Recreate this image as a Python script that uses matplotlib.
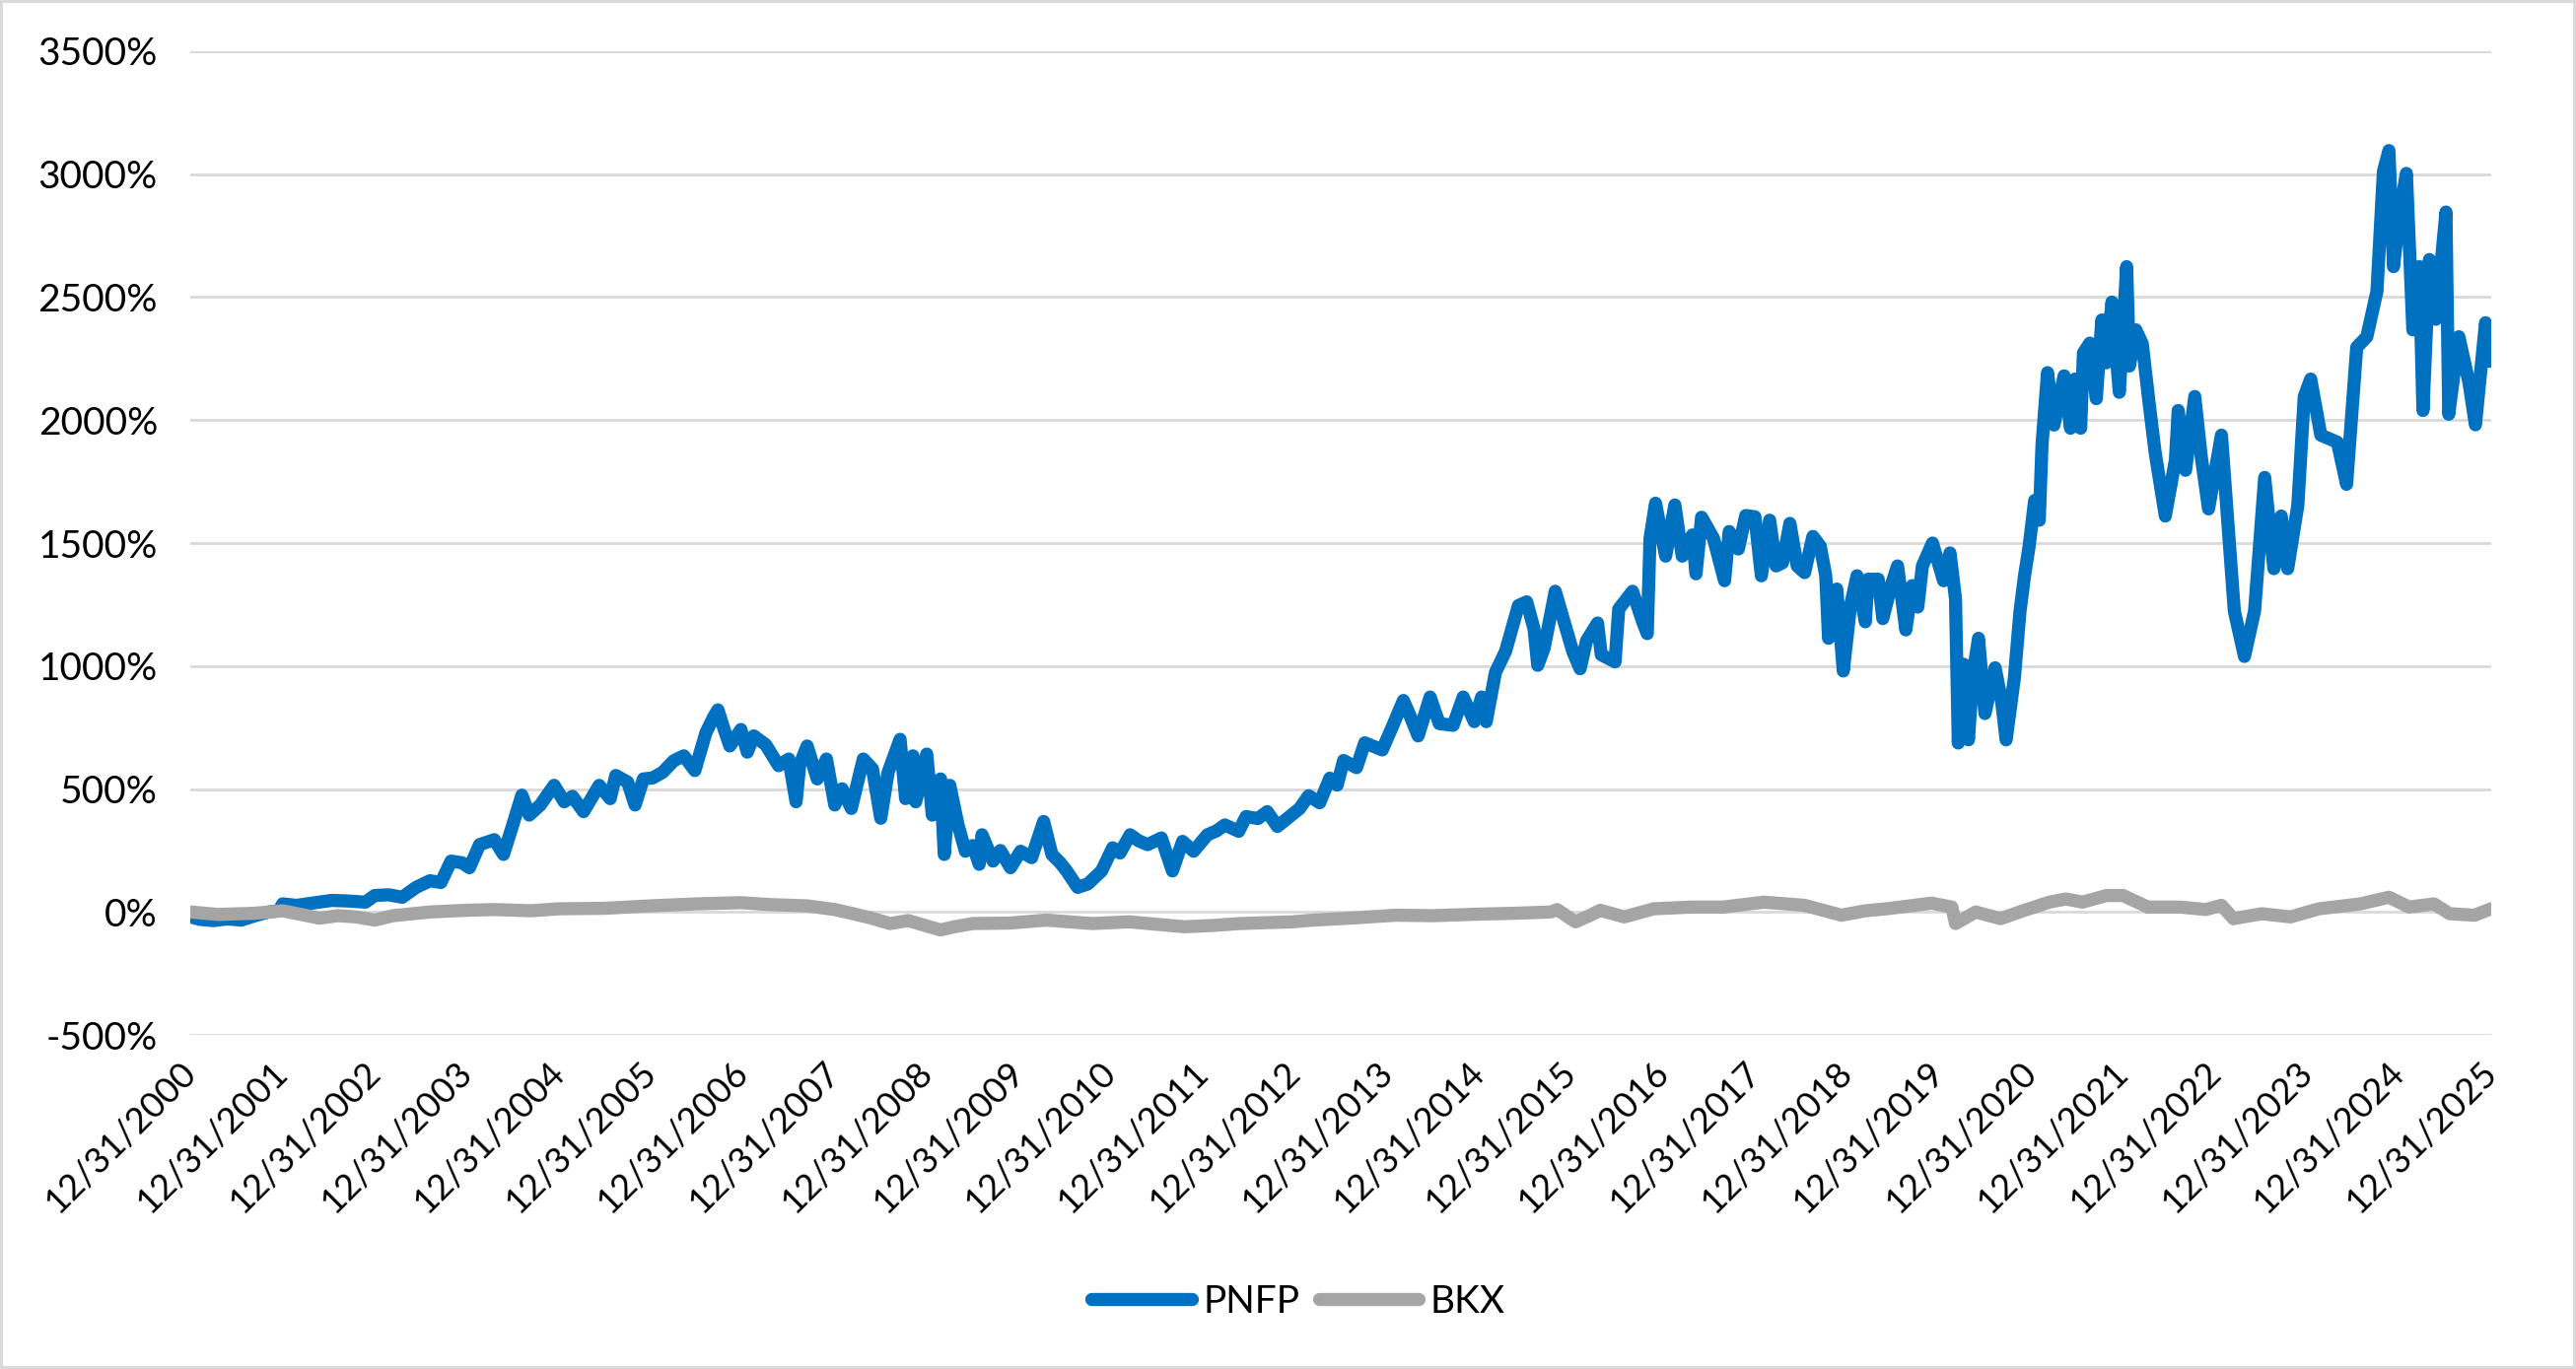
import numpy as np
import pandas as pd
import matplotlib
matplotlib.use('Agg')
import matplotlib.pyplot as plt
import matplotlib.dates as mdates
from matplotlib.ticker import FuncFormatter, MultipleLocator

plt.rcParams['font.family'] = ['Lato', 'DejaVu Sans']

# cumulative total return (%); time as decimal year
pnfp_t = [2001.0, 2001.1, 2001.25, 2001.4, 2001.55, 2001.7, 2001.85, 2001.96, 2002.0, 2002.15,
          2002.3, 2002.53, 2002.7, 2002.9, 2003.0, 2003.15, 2003.3, 2003.45, 2003.6, 2003.72,
          2003.83, 2003.95, 2004.03, 2004.14, 2004.3, 2004.4, 2004.49, 2004.6, 2004.68, 2004.8,
          2004.95, 2005.06, 2005.15, 2005.27, 2005.44, 2005.56, 2005.62, 2005.75, 2005.83, 2005.92,
          2006.02, 2006.13, 2006.25, 2006.36, 2006.48, 2006.6, 2006.68, 2006.73, 2006.8, 2006.86,
          2006.98, 2007.05, 2007.12, 2007.25, 2007.39, 2007.5, 2007.58, 2007.62, 2007.7, 2007.81,
          2007.91, 2008.0, 2008.08, 2008.18, 2008.31, 2008.41, 2008.5, 2008.58, 2008.71, 2008.77,
          2008.85, 2008.88, 2009.0, 2009.06, 2009.15, 2009.19, 2009.25, 2009.34, 2009.42, 2009.5,
          2009.57, 2009.6, 2009.72, 2009.8, 2009.91, 2010.02, 2010.14, 2010.27, 2010.36, 2010.45,
          2010.52, 2010.64, 2010.75, 2010.9, 2011.02, 2011.1, 2011.21, 2011.3, 2011.4, 2011.55,
          2011.67, 2011.78, 2011.9, 2012.05, 2012.15, 2012.24, 2012.39, 2012.47, 2012.6, 2012.7,
          2012.81, 2012.95, 2013.05, 2013.15, 2013.27, 2013.38, 2013.46, 2013.53, 2013.67, 2013.76,
          2013.95, 2014.05, 2014.18, 2014.25, 2014.34, 2014.47, 2014.57, 2014.72, 2014.83, 2014.95,
          2015.03, 2015.08, 2015.18, 2015.29, 2015.43, 2015.52, 2015.6, 2015.64, 2015.71, 2015.83,
          2015.92, 2016.02, 2016.1, 2016.17, 2016.29, 2016.33, 2016.48, 2016.52, 2016.67, 2016.78,
          2016.83, 2016.86, 2016.92, 2017.03, 2017.13, 2017.21, 2017.32, 2017.36, 2017.42, 2017.55,
          2017.67, 2017.72, 2017.82, 2017.9, 2018.0, 2018.07, 2018.16, 2018.23, 2018.3, 2018.38,
          2018.46, 2018.54, 2018.63, 2018.71, 2018.77, 2018.8, 2018.89, 2018.96, 2019.04, 2019.11,
          2019.2, 2019.23, 2019.34, 2019.39, 2019.48, 2019.55, 2019.64, 2019.71, 2019.77, 2019.82,
          2019.93, 2020.05, 2020.12, 2020.18, 2020.21, 2020.27, 2020.32, 2020.37, 2020.43, 2020.5,
          2020.61, 2020.68, 2020.73, 2020.82, 2020.88, 2020.93, 2020.98, 2021.04, 2021.09, 2021.12,
          2021.18, 2021.25, 2021.36, 2021.43, 2021.48, 2021.54, 2021.57, 2021.64, 2021.71, 2021.77,
          2021.82, 2021.88, 2021.96, 2022.04, 2022.07, 2022.14, 2022.21, 2022.28, 2022.35, 2022.46,
          2022.57, 2022.6, 2022.68, 2022.78, 2022.85, 2022.93, 2023.07, 2023.14, 2023.21, 2023.32,
          2023.43, 2023.54, 2023.64, 2023.72, 2023.79, 2023.9, 2023.97, 2024.04, 2024.15, 2024.33,
          2024.43, 2024.54, 2024.65, 2024.76, 2024.83, 2024.89, 2024.94, 2025.01, 2025.08, 2025.15,
          2025.22, 2025.26, 2025.33, 2025.4, 2025.51, 2025.54, 2025.65, 2025.76, 2025.83, 2025.94,
          2025.99]
pnfp = [-20, -30, -35, -28, -33, -15, 0, 5, 33, 27,
        35, 47, 45, 40, 67, 70, 60, 100, 127, 120,
        207, 200, 180, 274, 294, 234, 341, 475, 394, 435,
        515, 448, 470, 408, 515, 461, 555, 528, 435, 541,
        545, 568, 615, 635, 575, 729, 790, 822, 740, 675,
        742, 650, 716, 680, 595, 622, 448, 600, 675, 541,
        622, 435, 501, 421, 622, 582, 381, 568, 702, 461,
        635, 448, 642, 394, 541, 234, 515, 354, 247, 270,
        194, 314, 207, 250, 180, 247, 221, 368, 234, 200,
        167, 100, 114, 167, 261, 240, 314, 290, 274, 301,
        167, 287, 247, 314, 330, 354, 328, 388, 380, 408,
        348, 390, 420, 473, 444, 544, 516, 616, 587, 688,
        659, 745, 860, 800, 716, 874, 766, 759, 874, 774,
        874, 774, 974, 1060, 1246, 1261, 1150, 1003, 1074, 1304,
        1189, 1060, 989, 1103, 1175, 1046, 1017, 1232, 1304, 1180,
        1132, 1519, 1662, 1447, 1655, 1447, 1533, 1375, 1605, 1519,
        1347, 1547, 1476, 1612, 1607, 1367, 1593, 1407, 1420, 1580,
        1407, 1380, 1527, 1487, 1367, 1113, 1313, 980, 1247, 1367,
        1180, 1353, 1353, 1193, 1327, 1407, 1147, 1327, 1240, 1407,
        1500, 1347, 1460, 1273, 687, 1007, 700, 967, 1113, 807,
        993, 860, 700, 953, 1220, 1367, 1487, 1673, 1593, 1900,
        2193, 1980, 2180, 1967, 2167, 1967, 2273, 2313, 2087, 2407,
        2233, 2480, 2113, 2624, 2220, 2367, 2310, 2081, 1867, 1610,
        1839, 2039, 1796, 2096, 1853, 1639, 1939, 1581, 1224, 1039,
        1224, 1767, 1396, 1610, 1396, 1653, 2096, 2167, 1939, 1910,
        1739, 2296, 2339, 2524, 3010, 3096, 2624, 2853, 3003, 2367,
        2624, 2039, 2653, 2410, 2846, 2024, 2339, 2153, 1981, 2396,
        2239]

bkx_t = [2001.0, 2001.3, 2001.7, 2002.0, 2002.4, 2002.6, 2002.8, 2003.0, 2003.2, 2003.6,
         2004.0, 2004.3, 2004.7, 2005.0, 2005.5, 2006.0, 2006.5, 2006.98, 2007.3, 2007.7,
         2008.0, 2008.2, 2008.4, 2008.6, 2008.8, 2009.15, 2009.3, 2009.5, 2009.9, 2010.3,
         2010.8, 2011.2, 2011.5, 2011.8, 2012.1, 2012.4, 2012.97, 2013.2, 2013.6, 2014.1,
         2014.5, 2014.98, 2015.4, 2015.78, 2015.85, 2016.05, 2016.2, 2016.32, 2016.58, 2016.9,
         2017.3, 2017.65, 2018.1, 2018.54, 2018.94, 2019.2, 2019.43, 2019.92, 2020.14, 2020.18,
         2020.4, 2020.67, 2020.93, 2021.2, 2021.38, 2021.56, 2021.82, 2022.0, 2022.27, 2022.62,
         2022.9, 2023.07, 2023.2, 2023.51, 2023.82, 2024.13, 2024.58, 2024.89, 2025.11, 2025.38,
         2025.55, 2025.82, 2026.0]
bkx = [0, -10, -5, 5, -25, -15, -20, -33, -15, 0,
       7, 10, 5, 13, 15, 25, 33, 38, 30, 25,
       10, -7, -25, -47, -35, -73, -60, -47, -45, -33,
       -47, -40, -50, -60, -55, -47, -40, -33, -25, -13,
       -15, -9, -5, 0, 10, -40, -15, 7, -20, 13,
       20, 20, 40, 27, -13, 5, 13, 36, 20, -47,
       0, -27, 7, 40, 53, 40, 67, 67, 20, 20,
       10, 27, -27, -7, -20, 13, 33, 60, 20, 33,
       -7, -13, 13]

series_names = ['PNFP', 'BKX']
series_colors = ['#0070C0', '#A5A5A5']


def to_dates(t):
    t = np.asarray(t, dtype=float)
    return pd.Timestamp('2000-12-31') + pd.to_timedelta((t - 2001.0) * 365.25, unit='D')


fig = plt.figure(figsize=(13.065, 6.945), dpi=200, facecolor='white', edgecolor='#D9D9D9')
fig.patch.set_linewidth(2)
ax = fig.add_axes([0.074, 0.244, 0.893, 0.7186])

ax.plot(to_dates(pnfp_t), pnfp, color=series_colors[0], lw=4.8, label=series_names[0],
        solid_joinstyle='round', solid_capstyle='round')
ax.plot(to_dates(bkx_t), bkx, color=series_colors[1], lw=4.8, label=series_names[1],
        solid_joinstyle='round', solid_capstyle='round')

ax.set_ylim(-500, 3500)
ax.yaxis.set_major_locator(MultipleLocator(500))
ax.yaxis.set_major_formatter(FuncFormatter(lambda v, p: f'{v:.0f}%'))

ticks = pd.date_range('2000-12-31', '2025-12-31', freq='YE')
ax.set_xlim(ticks[0], ticks[-1])
ax.set_xticks(ticks)
ax.xaxis.set_major_formatter(mdates.DateFormatter('%m/%d/%Y'))

ax.grid(axis='y', color='#D9D9D9', lw=1.0)
ax.set_axisbelow(True)
for s in ax.spines.values():
    s.set_visible(False)
ax.tick_params(axis='both', length=0, colors='black')
ax.tick_params(axis='y', pad=12, labelsize=14)
ax.tick_params(axis='x', pad=12, labelsize=13)
for lab in ax.get_xticklabels():
    lab.set_rotation(45)
    lab.set_ha('right')
    lab.set_va('center')
    lab.set_rotation_mode('anchor')

fig.legend(loc='center', bbox_to_anchor=(0.504, 0.049), ncol=2, frameon=False,
           fontsize=14, handlelength=2.6, handletextpad=0.3, columnspacing=0.5)

fig.savefig('out.png', dpi=200, facecolor='white', edgecolor='#D9D9D9')
